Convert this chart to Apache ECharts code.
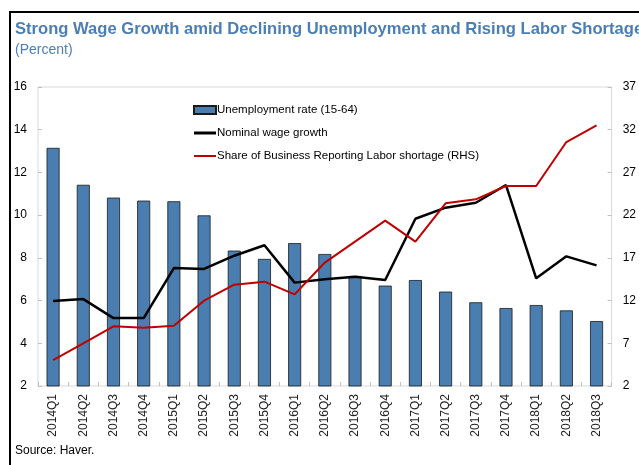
<!DOCTYPE html>
<html lang="en">
<head>
    <meta charset="UTF-8">
    <title>Strong Wage Growth</title>
    <style>
        * {
            margin: 0;
            padding: 0;
        }

        body {
            background-color: #fff;
        }

        #chart {
            width: 639px;
            height: 465px;
        }
    </style>
</head>
<body>
<div id="chart"></div>
<script src="https://cdn.jsdelivr.net/npm/echarts@6/dist/echarts.min.js"></script>
<script>
    var quarters = ['2014Q1', '2014Q2', '2014Q3', '2014Q4', '2015Q1', '2015Q2', '2015Q3', '2015Q4',
        '2016Q1', '2016Q2', '2016Q3', '2016Q4', '2017Q1', '2017Q2', '2017Q3', '2017Q4',
        '2018Q1', '2018Q2', '2018Q3'];
    var unemployment = [13.15, 11.42, 10.82, 10.68, 10.65, 9.99, 8.34, 7.95, 8.69, 8.18,
        7.15, 6.70, 6.96, 6.42, 5.92, 5.65, 5.79, 5.54, 5.04];
    var wageGrowth = [5.98, 6.07, 5.18, 5.18, 7.52, 7.48, 8.10, 8.59, 6.84, 7.0,
        7.12, 6.96, 9.83, 10.35, 10.58, 11.41, 7.04, 8.07, 7.65];
    var laborShortage = [5.04, 7.0, 8.99, 8.83, 9.06, 11.99, 13.86, 14.21, 12.73, 16.45,
        18.9, 21.35, 18.9, 23.38, 23.85, 25.41, 25.41, 30.56, 32.52];
    var leftTicks = {min: 2, max: 16, interval: 2};
    var rightTicks = {min: 2, max: 37, interval: 5};

    var blue = '#4a7eb4';
    var font = 'Liberation Sans';
    // thin line icons for the legend (corner specks keep the 22x8 box)
    var thickLine = 'path://M0,2.6H22V5.4H0Z M0,0H0.01V0.01H0Z M21.99,7.99H22V8H21.99Z';
    var thinLine = 'path://M0,3H22V5H0Z M0,0H0.01V0.01H0Z M21.99,7.99H22V8H21.99Z';

    var mychart = echarts.init(document.getElementById('chart'));
    mychart.setOption({
        backgroundColor: '#fff',
        animation: false,
        textStyle: {fontFamily: font},
        grid: {
            left: 38,
            right: 22,
            top: 87,
            bottom: 79,
            show: true,
            borderColor: '#d9d9d9',
            borderWidth: 1
        },
        legend: {
            orient: 'vertical',
            left: 188,
            top: 99,
            itemGap: 11,
            itemWidth: 22,
            itemHeight: 8,
            textStyle: {fontSize: 11.5, color: '#000', fontFamily: font, padding: [0, 0, 0, -4]},
            data: [
                {name: 'Unemployment rate (15-64)', icon: 'rect'},
                {name: 'Nominal wage growth', icon: thickLine},
                {name: 'Share of Business Reporting Labor shortage (RHS)', icon: thinLine}
            ]
        },
        graphic: [
            {type: 'line', shape: {x1: 9, y1: 12, x2: 639, y2: 12}, style: {stroke: '#000', lineWidth: 2}},
            {type: 'line', shape: {x1: 10, y1: 12, x2: 10, y2: 465}, style: {stroke: '#000', lineWidth: 2}},
            {
                type: 'text', left: 15, top: 21,
                style: {
                    text: 'Strong Wage Growth amid Declining Unemployment and Rising Labor Shortage',
                    fill: blue, font: 'bold 16.6px "Liberation Sans"'
                }
            },
            {
                type: 'text', left: 15, top: 43,
                style: {text: '(Percent)', fill: blue, font: '14px "Liberation Sans"'}
            },
            {
                type: 'text', left: 15, top: 445,
                style: {text: 'Source: Haver.', fill: '#000', font: '12px "Liberation Sans"'}
            }
        ],
        xAxis: {
            type: 'category',
            data: quarters,
            axisLine: {show: false},
            axisTick: {show: true, inside: true, length: 4, lineStyle: {color: '#bfbfbf'}},
            axisLabel: {rotate: 90, fontSize: 12, color: '#222', margin: 8}
        },
        yAxis: [
            {
                type: 'value',
                min: leftTicks.min,
                max: leftTicks.max,
                interval: leftTicks.interval,
                splitLine: {show: false},
                axisLine: {show: false},
                axisTick: {show: true, inside: true, length: 4, lineStyle: {color: '#bfbfbf'}},
                axisLabel: {fontSize: 12, color: '#000', margin: 11}
            },
            {
                type: 'value',
                min: rightTicks.min,
                max: rightTicks.max,
                interval: rightTicks.interval,
                splitLine: {show: false},
                axisLine: {show: false},
                axisTick: {show: true, inside: true, length: 4, lineStyle: {color: '#bfbfbf'}},
                axisLabel: {fontSize: 12, color: '#000', margin: 11}
            }
        ],
        series: [
            {
                name: 'Unemployment rate (15-64)',
                type: 'bar',
                data: unemployment,
                barWidth: 13,
                itemStyle: {color: '#4a7eb0', borderColor: '#1a1a1a', borderWidth: 0.8}
            },
            {
                name: 'Nominal wage growth',
                type: 'line',
                data: wageGrowth,
                symbol: 'none',
                lineStyle: {color: '#000', width: 2.5},
                itemStyle: {color: '#000'}
            },
            {
                name: 'Share of Business Reporting Labor shortage (RHS)',
                type: 'line',
                yAxisIndex: 1,
                data: laborShortage,
                symbol: 'none',
                lineStyle: {color: '#c00000', width: 2},
                itemStyle: {color: '#c00000'}
            }
        ]
    });
</script>
</body>
</html>
